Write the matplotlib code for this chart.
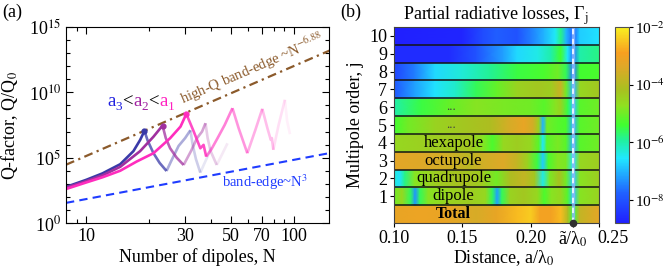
import numpy as np
import matplotlib
matplotlib.use('Agg')
import matplotlib.pyplot as plt
from matplotlib.colors import LinearSegmentedColormap, Normalize, LogNorm
from matplotlib.cm import ScalarMappable
from matplotlib.ticker import FixedLocator, NullLocator, FixedFormatter, NullFormatter
from matplotlib.transforms import ScaledTranslation

plt.rcParams['font.family'] = ['Liberation Serif', 'DejaVu Serif']
plt.rcParams['mathtext.fontset'] = 'stix'

# ---------------- Panel (a) data: (N, log10 Q) ----------------
blue_N = [8, 10, 12, 14.6, 16.9, 18.2, 19.1, 19.8, 21.1, 22.6, 24.4, 25.8, 27.9, 30, 31.8, 32.6, 33.8, 35.5, 37, 38.5, 40]
blue_logQ = [2.76, 3.3, 3.8, 4.5, 5.5, 6.35, 7.05, 6.3, 5.35, 4.6, 3.98, 4.8, 5.9, 6.5, 7.1, 6.0, 4.9, 3.85, 4.5, 5.1, 5.8]
blue_breaks = [6, 10, 14, 17]

purple_N = [8, 10, 12, 14.6, 18.2, 21.1, 23.35, 24.2, 25.4, 27.3, 29.5, 32, 34.2, 36.2, 37.6, 38.5, 39.8, 42.6, 45, 48]
purple_logQ = [2.7, 3.2, 3.65, 4.3, 5.5, 6.6, 7.46, 6.5, 5.72, 5.0, 4.44, 5.5, 6.49, 7.0, 7.64, 6.5, 5.5, 4.44, 5.2, 6.1]
purple_breaks = [6, 10, 14, 17]

pink_N = [8, 10, 12, 14.6, 17.5, 21.1, 25.4, 28.5, 30.4, 33.0, 35.5, 36.8, 37.9, 40, 43, 46.5, 50.7,
          54.3, 59.8, 65.4, 70.6, 74.7, 77.6, 78.5, 79.8, 84.6, 90.7, 93, 96]
pink_logQ = [2.6, 3.1, 3.5, 4.0, 4.7, 5.34, 6.49, 7.38, 8.35, 7.0, 5.72, 5.98, 5.08, 5.6, 6.5, 7.5, 8.79,
             7.26, 5.34, 7.13, 8.74, 7.26, 6.36, 6.5, 5.6, 7.5, 9.43, 7.8, 6.8]
pink_breaks = [8, 12, 16, 18, 20, 24, 26]

band_edge_N = [8, 150]
band_edge_logQ = [1.54, 5.36]
highQ_N = [8, 150]
highQ_logQ = [4.46, 13.22]

# ---------------- Panel (b) data: log10 Gamma_j along a/lambda0 ----------------
total_x = [0.10, 0.12, 0.14, 0.16, 0.175, 0.19, 0.20, 0.207, 0.215, 0.222, 0.227, 0.231, 0.236, 0.25]
total_v = [-3.2, -3.1, -3.2, -3.5, -3.2, -2.6, -2.4, -3.0, -3.0, -2.6, -4.0, -5.5, -3.8, -3.3]
j1_x = [0.10, 0.106, 0.112, 0.1155, 0.119, 0.125, 0.14, 0.155, 0.167, 0.172, 0.1755, 0.179, 0.185, 0.195, 0.205, 0.21, 0.215, 0.222, 0.227, 0.231, 0.236, 0.25]
j1_v = [-5.0, -4.6, -5.6, -7.3, -5.6, -4.8, -4.5, -4.4, -4.6, -5.6, -7.2, -5.6, -4.5, -4.3, -4.6, -5.3, -4.8, -4.6, -5.2, -6.8, -4.8, -4.5]
j2_x = [0.10, 0.104, 0.108, 0.115, 0.13, 0.15, 0.165, 0.175, 0.185, 0.195, 0.203, 0.209, 0.214, 0.221, 0.226, 0.231, 0.236, 0.25]
j2_v = [-6.3, -6.6, -5.8, -4.8, -4.4, -4.2, -4.4, -5.0, -4.1, -3.8, -4.3, -6.4, -4.9, -4.2, -5.0, -6.8, -4.8, -4.4]
j3_x = [0.10, 0.12, 0.14, 0.155, 0.165, 0.18, 0.19, 0.198, 0.205, 0.209, 0.213, 0.22, 0.226, 0.231, 0.236, 0.25]
j3_v = [-3.3, -3.4, -3.6, -3.9, -3.6, -3.4, -3.8, -4.5, -5.5, -6.8, -5.3, -4.8, -4.9, -6.5, -4.6, -4.4]
j4_x = [0.10, 0.13, 0.155, 0.165, 0.172, 0.18, 0.19, 0.20, 0.206, 0.209, 0.212, 0.22, 0.226, 0.231, 0.236, 0.25]
j4_v = [-4.6, -4.4, -4.3, -4.8, -5.3, -4.6, -4.4, -4.6, -5.2, -6.5, -5.2, -4.9, -5.2, -7.0, -5.2, -5.0]
j5_x = [0.10, 0.11, 0.13, 0.15, 0.17, 0.185, 0.195, 0.202, 0.206, 0.209, 0.212, 0.22, 0.226, 0.231, 0.236, 0.25]
j5_v = [-5.4, -5.0, -4.5, -4.3, -4.1, -3.5, -3.2, -3.6, -4.5, -7.0, -5.0, -5.2, -5.3, -7.0, -5.2, -5.0]
j6_x = [0.10, 0.12, 0.14, 0.16, 0.18, 0.20, 0.21, 0.218, 0.222, 0.227, 0.231, 0.236, 0.25]
j6_v = [-6.0, -5.5, -5.1, -4.8, -4.9, -5.0, -5.2, -4.8, -4.5, -5.5, -6.8, -5.2, -5.0]
j7_x = [0.10, 0.115, 0.13, 0.145, 0.16, 0.175, 0.19, 0.205, 0.215, 0.222, 0.226, 0.231, 0.236, 0.25]
j7_v = [-7.9, -7.2, -6.6, -6.2, -5.6, -5.1, -4.5, -4.3, -4.4, -3.7, -5.0, -7.0, -4.6, -4.3]
j8_x = [0.10, 0.115, 0.13, 0.15, 0.17, 0.19, 0.21, 0.22, 0.226, 0.231, 0.236, 0.25]
j8_v = [-8.2, -7.5, -6.7, -6.3, -5.9, -5.5, -5.3, -5.0, -5.6, -7.6, -5.4, -5.3]
j9_x = [0.10, 0.14, 0.16, 0.18, 0.19, 0.205, 0.215, 0.222, 0.227, 0.231, 0.236, 0.25]
j9_v = [-8.6, -8.6, -8.0, -7.2, -6.7, -6.4, -6.0, -5.4, -6.5, -7.6, -6.0, -5.8]
j10_x = [0.10, 0.15, 0.165, 0.175, 0.19, 0.20, 0.21, 0.218, 0.222, 0.226, 0.231, 0.236, 0.25]
j10_v = [-8.8, -8.7, -8.1, -7.8, -8.0, -7.5, -7.0, -6.5, -5.8, -7.0, -7.8, -6.8, -6.6]

row_labels = {0: 'Total', 1: 'dipole', 2: 'quadrupole', 3: 'octupole', 4: 'hexapole', 5: '...', 6: '...'}
a_tilde = 0.231

# ---------------- figure ----------------
W, H = 664, 279
fig = plt.figure(figsize=(6.64, 2.79), dpi=100)
axa = fig.add_axes([0.0994, 0.2007, 0.3961, 0.7025])
axb = fig.add_axes([0.5934, 0.2007, 0.3087, 0.7025])
cax = fig.add_axes([615 / W, 0.2007, 14 / W, 0.7025])

# ---- panel (a)
def draw_curve(ax, N, lq, breaks, color, alphas, peak_idx):
    idx = [0] + breaks + [len(N) - 1]
    for k in range(len(idx) - 1):
        s, e = idx[k], idx[k + 1]
        ax.plot(N[s:e + 1], [10 ** v for v in lq[s:e + 1]], color=color,
                alpha=alphas[k], lw=1.9, solid_joinstyle='round', solid_capstyle='butt')
    ax.plot([N[peak_idx]], [10 ** lq[peak_idx]], 'o', color=color, ms=3.5)

axa.plot(band_edge_N, [10 ** v for v in band_edge_logQ], ls=(0, (4, 2.5)), color='#1f3cff', lw=1.5)
axa.plot(highQ_N, [10 ** v for v in highQ_logQ], ls=(0, (4, 2, 1, 2)), color='#8b5a2b', lw=1.6)

draw_curve(axa, blue_N, blue_logQ, blue_breaks, '#3a3aa8', [1.0, 0.75, 0.42, 0.25, 0.12], 6)
draw_curve(axa, purple_N, purple_logQ, purple_breaks, '#a0309f', [1.0, 0.75, 0.45, 0.25, 0.1], 6)
draw_curve(axa, pink_N, pink_logQ, pink_breaks, '#ff2dbe', [1.0, 0.85, 0.6, 0.5, 0.38, 0.3, 0.15, 0.07], 8)

axa.set_xscale('log')
axa.set_yscale('log')
axa.set_xlim(8, 148)
axa.set_ylim(1, 1e15)
axa.yaxis.set_major_locator(FixedLocator([1, 1e5, 1e10, 1e15]))
axa.yaxis.set_major_formatter(FixedFormatter(['10$^{0}$', '10$^{5}$', '10$^{10}$', '10$^{15}$']))
axa.yaxis.set_minor_locator(FixedLocator([10.0 ** k for k in range(16)]))
axa.yaxis.set_minor_formatter(NullFormatter())
axa.xaxis.set_major_locator(FixedLocator([10, 30, 50, 70, 100]))
axa.xaxis.set_major_formatter(FixedFormatter(['10', '30', '50', '70', '100']))
axa.xaxis.set_minor_locator(FixedLocator([9, 20, 40, 60, 80, 90]))
axa.xaxis.set_minor_formatter(NullFormatter())
axa.tick_params(which='both', direction='in', top=True, right=True, labelsize=13)
axa.tick_params(which='major', length=5, width=0.8)
axa.tick_params(which='minor', length=3, width=0.8)
axa.set_xlabel('Number of dipoles, N', fontsize=13)
axa.set_ylabel('Q-factor, Q/Q$_0$', fontsize=13)
axa.xaxis.set_label_coords(0.5, -0.13)
axa.yaxis.set_label_coords(-0.175, 0.5)

axa.text(63, 10 ** 11.8, 'high-Q band-edge ~N$^{-6.88}$', color='#8b5a2b', fontsize=10.5,
         rotation=23.4, rotation_mode='anchor', ha='center', va='center')
axa.text(73, 10 ** 3.1, 'band-edge~N$^3$', color='#1f3cff', fontsize=10.5, ha='center', va='center')

# colored a3<a2<a1, chained plain-text pieces (letter, subscript, sign)
fig.canvas.draw()
renderer = fig.canvas.get_renderer()
pieces = [('a', '#2020e0', 13.5, 0), ('3', '#2020e0', 9.5, -4), ('<', 'black', 13.5, 0),
          ('a', '#a020a0', 13.5, 0), ('2', '#a020a0', 9.5, -4), ('<', 'black', 13.5, 0),
          ('a', '#ff20c0', 13.5, 0), ('1', '#ff20c0', 9.5, -4)]
xpx, base = 107.0, H - 106.5
for s, c, fs, dy in pieces:
    t = fig.text(xpx / W, (base + dy) / H, s, color=c, fontsize=fs, va='baseline', ha='left')
    bb = t.get_window_extent(renderer)
    xpx = bb.x1 + 0.2

# ---- panel (b)
cnodes = [(0.0, '#2020ff'), (0.15, '#2060ff'), (0.33, '#20e8ff'), (0.42, '#20f0a0'), (0.5, '#40ff30'),
          (0.6, '#90e020'), (0.68, '#a8c020'), (0.8, '#e0a828'), (0.87, '#f8a020'), (1.0, '#f8f020')]
cmap = LinearSegmentedColormap.from_list('gam', cnodes)
vmin, vmax = -8.8, -2.0
norm = Normalize(vmin, vmax)

rows = [(total_x, total_v), (j1_x, j1_v), (j2_x, j2_v), (j3_x, j3_v), (j4_x, j4_v), (j5_x, j5_v),
        (j6_x, j6_v), (j7_x, j7_v), (j8_x, j8_v), (j9_x, j9_v), (j10_x, j10_v)]
for j, (xs, vs) in enumerate(rows):
    X = np.array([xs, xs])
    Y = np.array([[j - 0.5] * len(xs), [j + 0.5] * len(xs)])
    C = np.array([vs, vs])
    axb.pcolormesh(X, Y, C, cmap=cmap, norm=norm, shading='gouraud')
for j in range(10):
    axb.axhline(j + 0.5, color='#151515', lw=1.1)

axb.axvline(a_tilde, color='#8ab8ff', lw=2.4, alpha=0.8)
axb.axvline(a_tilde, color='white', lw=1.3, ls=(0, (3, 2.5)), alpha=0.9)
axb.plot([a_tilde], [-0.5], 'o', color='#303030', ms=4.5, clip_on=False, zorder=5)

for j, s in row_labels.items():
    if s == '...':
        axb.text(0.142, j, s, ha='center', va='center', fontsize=9, color='#404040')
    elif s == 'Total':
        axb.text(0.1435, j, s, ha='center', va='center', fontsize=11.5, fontweight='bold')
    else:
        axb.text(0.1435, j, s, ha='center', va='center', fontsize=12)

axb.set_xlim(0.10, 0.25)
axb.set_ylim(-0.5, 10.5)
axb.set_yticks(range(1, 11))
axb.set_yticklabels([str(k) for k in range(1, 11)])
axb.set_xticks([0.10, 0.15, 0.20, a_tilde, 0.25])
axb.set_xticklabels(['0.10', '0.15', '0.20', 'ã/λ$_0$', '0.25'])
axb.tick_params(direction='out', length=3, width=0.8, labelsize=13, pad=2)
lab25 = axb.get_xticklabels()[4]
lab25.set_ha('left')
lab25.set_transform(lab25.get_transform() + ScaledTranslation(-2 / 100, 0, fig.dpi_scale_trans))
axb.set_xlabel('Distance, a/λ$_0$', fontsize=13)
axb.set_ylabel('Multipole order, j', fontsize=13)
axb.xaxis.set_label_coords(0.537, -0.13)
axb.yaxis.set_label_coords(-0.146, 0.5)
axb.set_title('Partial radiative losses, Γ$_{\\rm j}$', fontsize=13, pad=5)
for sp in axb.spines.values():
    sp.set_color('#404040')

sm = ScalarMappable(norm=LogNorm(10 ** vmin, 10 ** vmax), cmap=cmap)
cb = fig.colorbar(sm, cax=cax)
cb.set_ticks([1e-8, 1e-6, 1e-4, 1e-2])
cb.set_ticklabels(['10$^{-8}$', '10$^{-6}$', '10$^{-4}$', '10$^{-2}$'])
cax.yaxis.set_minor_locator(NullLocator())
cax.tick_params(labelsize=11, length=3, width=0.8, pad=1.5)
cb.outline.set_edgecolor('#505050')

fig.text(0.004, 0.955, '(a)', fontsize=13, va='center')
fig.text(0.512, 0.955, '(b)', fontsize=13, va='center')

fig.savefig('out.png', dpi=100)
